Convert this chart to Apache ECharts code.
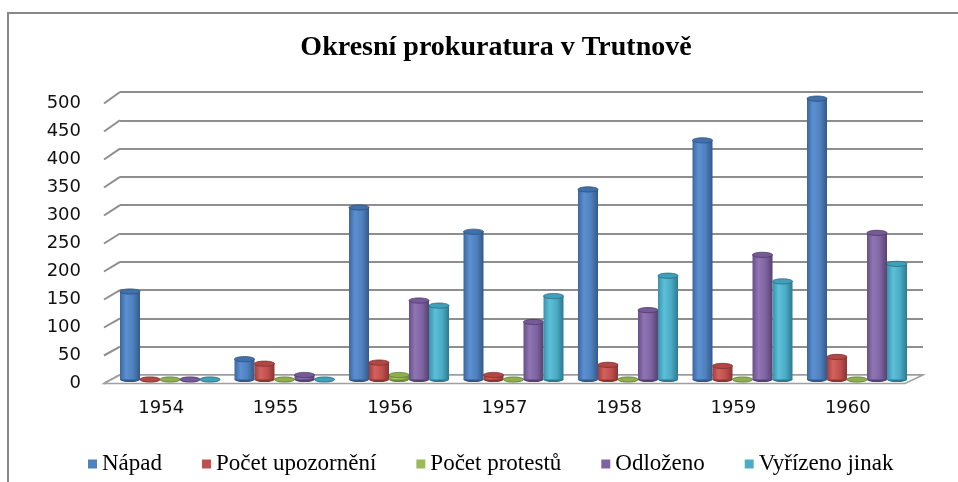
<!DOCTYPE html>
<html>
<head>
<meta charset="utf-8">
<script src="https://cdn.jsdelivr.net/npm/echarts@6/dist/echarts.min.js"></script>
<style>
html,body{margin:0;padding:0;background:#fff;}
#main{width:958px;height:482px;}
</style>
</head>
<body>
<div id="main"></div>
<script>
// ---- data ----
const years = ['1954', '1955', '1956', '1957', '1958', '1959', '1960'];
const seriesNames = ['Nápad', 'Počet upozornění', 'Počet protestů', 'Odloženo', 'Vyřízeno jinak'];
const napad = [156, 36, 305, 262, 337, 424, 498];
const upozorneni = [0, 28, 30, 8, 26, 24, 40];
const protesty = [0, 0, 8, 0, 0, 0, 0];
const odlozeno = [0, 8, 140, 102, 123, 221, 260];
const vyrizeno = [0, 0, 131, 148, 184, 174, 205];
const yMax = 500;
const yStep = 50;
const titleText = 'Okresní prokuratura v Trutnově';

// ---- layout / style ----
const BACK = {left: 120, top: 92, width: 803, height: 283};
const FRONT = {left: 104, top: 103.5, width: 801, height: 280};
const BARS = {left: 112.75, top: 97.5, width: 801.5, height: 282};
const BW = 20, RY = 2.6;
const gridColor = '#8e8e8e';
const baseColors = ['#4F81BD', '#C0504D', '#9BBB59', '#8064A2', '#4BACC6'];
const shades = [
  ['#3B679F', '#5C90D2', '#4F81BD', '#33598A', '#4171AA', '#2E5180'],
  ['#A23F3C', '#D3625E', '#C0504D', '#8A3533', '#B34744', '#7E302E'],
  ['#80A044', '#ADCD6B', '#9BBB59', '#6C8838', '#8FAF4F', '#62802F'],
  ['#684F88', '#9075B4', '#8064A2', '#564170', '#755A97', '#4E3B66'],
  ['#3792AB', '#5EBFD8', '#4BACC6', '#2C7A8F', '#40A0BA', '#276E82']
];
const allSeries = [napad, upozorneni, protesty, odlozeno, vyrizeno];

const chart = echarts.init(document.getElementById('main'), null, {renderer: 'canvas'});

function makeRender(k) {
  const s = shades[k];
  const grad = new echarts.graphic.LinearGradient(0, 0, 1, 0, [
    {offset: 0, color: s[0]}, {offset: 0.3, color: s[1]},
    {offset: 0.65, color: s[2]}, {offset: 1, color: s[3]}
  ]);
  return function (params, api) {
    const ci = api.value(0), v = api.value(1);
    const b = api.coord([ci, 0]);
    const t = api.coord([ci, v]);
    const cx = b[0] + (k - (seriesNames.length - 1) / 2) * BW;
    return {
      type: 'group',
      children: [
        {type: 'ellipse', shape: {cx: cx, cy: b[1], rx: BW / 2, ry: RY}, style: {fill: s[3]}},
        {type: 'rect', shape: {x: cx - BW / 2, y: t[1], width: BW, height: b[1] - t[1]}, style: {fill: grad}},
        {type: 'ellipse', shape: {cx: cx, cy: t[1], rx: BW / 2, ry: RY}, style: {fill: s[4], stroke: s[5], lineWidth: 0.8}}
      ]
    };
  };
}

const series = seriesNames.map((name, k) => ({
  name: name,
  type: 'custom',
  xAxisIndex: 2,
  yAxisIndex: 2,
  z: 5,
  renderItem: makeRender(k),
  data: allSeries[k].map((v, i) => [i, v])
}));

const option = {
  animation: false,
  color: baseColors,
  title: {
    text: titleText,
    left: 491,
    top: 29,
    textAlign: 'center',
    textStyle: {fontFamily: 'Liberation Serif', fontWeight: 'bold', fontSize: 28, color: '#000'}
  },
  legend: {
    data: seriesNames,
    left: 83,
    top: 447.5,
    icon: 'rect',
    itemWidth: 9,
    itemHeight: 9,
    itemGap: 40,
    textStyle: {fontFamily: 'Liberation Serif', fontSize: 23, color: '#000', lineHeight: 23}
  },
  grid: [
    Object.assign({}, BACK),
    Object.assign({}, FRONT),
    Object.assign({}, BARS)
  ],
  xAxis: [
    {type: 'category', gridIndex: 0, data: years, show: false},
    {type: 'category', gridIndex: 1, data: years,
      axisLine: {show: false}, axisTick: {show: false},
      axisLabel: {margin: 16, fontFamily: 'DejaVu Sans', fontSize: 18, color: '#111'}},
    {type: 'category', gridIndex: 2, data: years, show: false}
  ],
  yAxis: [
    {type: 'value', gridIndex: 0, min: 0, max: yMax, interval: yStep,
      axisLabel: {show: false}, axisLine: {show: false}, axisTick: {show: false},
      splitLine: {show: true, lineStyle: {color: gridColor, width: 2}}},
    {type: 'value', gridIndex: 1, min: 0, max: yMax, interval: yStep,
      axisLine: {show: false}, axisTick: {show: false}, splitLine: {show: false},
      axisLabel: {margin: 23, fontFamily: 'DejaVu Sans', fontSize: 18, color: '#111'}},
    {type: 'value', gridIndex: 2, min: 0, max: yMax, show: false, splitLine: {show: false}}
  ],
  series: series
};
chart.setOption(option);

// 3D decorations derived from axes
const g = [];
g.push({type: 'rect', z: 0, silent: true,
  shape: {x: 8, y: 13, width: 1000, height: 1000},
  style: {fill: null, stroke: '#888', lineWidth: 2}});
const ticks = [];
for (let v = 0; v <= yMax; v += yStep) ticks.push(v);
ticks.forEach(v => {
  const yf = chart.convertToPixel({yAxisIndex: 1}, v);
  const yb = chart.convertToPixel({yAxisIndex: 0}, v);
  g.push({type: 'line', z: 1, silent: true,
    shape: {x1: FRONT.left, y1: yf, x2: BACK.left, y2: yb},
    style: {stroke: gridColor, lineWidth: 2}});
});
const y0f = chart.convertToPixel({yAxisIndex: 1}, 0);
const y0b = chart.convertToPixel({yAxisIndex: 0}, 0);
g.push({type: 'polygon', z: 1, silent: true,
  shape: {points: [[FRONT.left, y0f], [FRONT.left + FRONT.width, y0f],
    [BACK.left + BACK.width, y0b], [BACK.left, y0b]]},
  style: {fill: '#fff', stroke: '#a0a0a0', lineWidth: 1.5}});
chart.setOption({graphic: g});
</script>
</body>
</html>
